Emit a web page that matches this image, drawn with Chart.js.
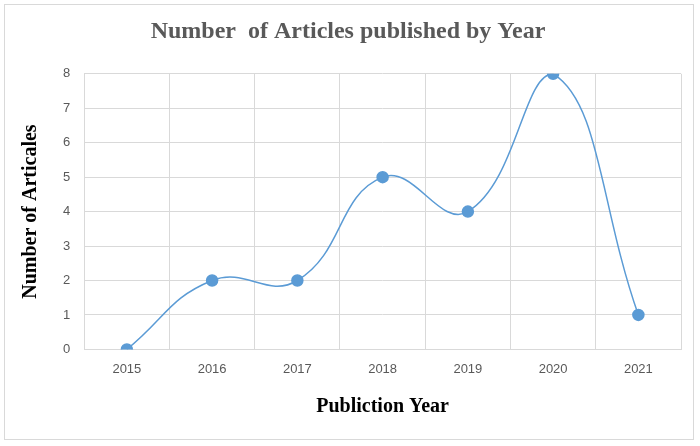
<!DOCTYPE html>
<html><head><meta charset="utf-8">
<script src="https://cdn.jsdelivr.net/npm/chart.js"></script>
<style>
html,body{margin:0;padding:0;background:#fff;}
#wrap{position:absolute;left:4px;top:4px;width:690px;height:436px;border:1px solid #d9d9d9;box-sizing:border-box;}
</style></head><body>
<div id="wrap"><canvas id="c"></canvas></div>
<script>
const years = ["2015","2016","2017","2018","2019","2020","2021"];
const articles = [0,2,2,5,4,8,1];
const yTicks = [0,1,2,3,4,5,6,7,8];

new Chart(document.getElementById('c'), {
  type: 'line',
  data: { labels: years, datasets: [{
    data: articles, borderColor: '#5b9bd5', borderWidth: 1.5,
    backgroundColor: '#5b9bd5', pointRadius: 5.5, pointHoverRadius: 5.5,
    tension: 0.45, fill: false
  }]},
  options: {
    responsive: true, maintainAspectRatio: false, animation: false,
    layout: { padding: { left: 10, right: 12, top: 6, bottom: 16 } },
    plugins: {
      legend: { display: false }, tooltip: { enabled: false },
      title: { display: true, text: 'Number  of Articles published by Year',
        color: '#595959', font: { family: 'Liberation Serif', size: 24, weight: 'bold' },
        padding: { top: 6, bottom: 28 } }
    },
    scales: {
      x: { offset: true,
        grid: { offset: true, color: '#d9d9d9', drawTicks: false },
        border: { color: '#d9d9d9' },
        ticks: { color: '#595959', font: { family: 'Liberation Sans', size: 13 }, padding: 12 },
        title: { display: true, text: 'Publiction Year', color: '#000',
          font: { family: 'Liberation Serif', size: 20, weight: 'bold' }, padding: { top: 6 } } },
      y: { min: 0, max: 8,
        afterBuildTicks: s => { s.ticks = yTicks.map(v => ({ value: v })); },
        grid: { color: '#d9d9d9', drawTicks: false },
        border: { display: false },
        ticks: { color: '#595959', font: { family: 'Liberation Sans', size: 13 }, padding: 14 },
        title: { display: true, text: 'Number of Articales', color: '#000',
          font: { family: 'Liberation Serif', size: 20, weight: 'bold' }, padding: { bottom: 6 } } }
    }
  }
});
</script>
</body></html>
